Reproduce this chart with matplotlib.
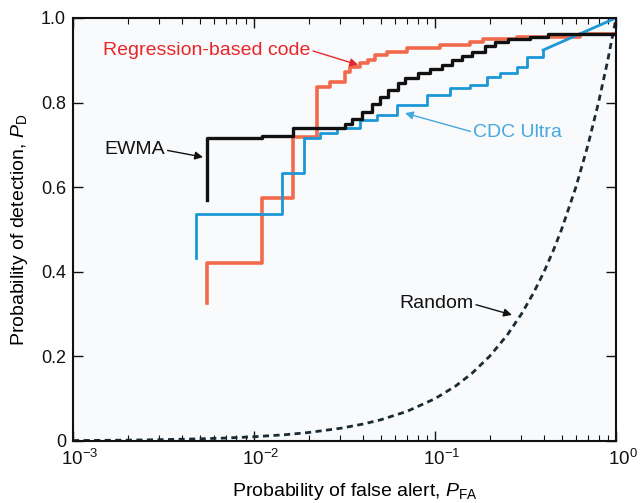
import matplotlib
matplotlib.use("Agg")
import matplotlib.pyplot as plt
from matplotlib.ticker import FixedLocator, FuncFormatter, LogLocator, NullFormatter
from matplotlib.transforms import ScaledTranslation

plt.rcParams['font.family'] = ['Liberation Sans', 'DejaVu Sans']
plt.rcParams['mathtext.fontset'] = 'custom'
plt.rcParams['mathtext.rm'] = 'Liberation Sans'
plt.rcParams['mathtext.it'] = 'Liberation Sans:italic'
plt.rcParams['mathtext.default'] = 'regular'

# ROC curves (P_FA on log axis, P_D linear)
ewma_pfa = [0.00549, 0.00549, 0.01107, 0.01641, 0.0318, 0.0348, 0.0395, 0.0449, 0.0497,
            0.0549, 0.0625, 0.0682, 0.0805, 0.0937, 0.1094, 0.124, 0.141, 0.160, 0.189,
            0.214, 0.253, 0.335, 0.421, 1.0]
ewma_pd = [0.570, 0.716, 0.721, 0.741, 0.749, 0.761, 0.778, 0.797, 0.813,
           0.830, 0.846, 0.858, 0.870, 0.879, 0.889, 0.901, 0.910, 0.920, 0.934,
           0.943, 0.950, 0.955, 0.962, 0.962]

regr_pfa = [0.00549, 0.00549, 0.01107, 0.01641, 0.0223, 0.0263, 0.0318, 0.0339, 0.0386,
            0.0427, 0.0467, 0.0543, 0.0700, 0.1067, 0.156, 0.184, 0.284, 0.632, 1.0]
regr_pd = [0.326, 0.421, 0.574, 0.719, 0.837, 0.849, 0.872, 0.884, 0.894,
           0.901, 0.913, 0.920, 0.929, 0.936, 0.943, 0.950, 0.955, 0.962, 0.962]

cdc_pfa = [0.00479, 0.00479, 0.01429, 0.01888, 0.0232, 0.0288, 0.0386, 0.0479, 0.0617,
           0.0904, 0.121, 0.156, 0.194, 0.229, 0.284, 0.322, 0.395]
cdc_pd = [0.433, 0.537, 0.634, 0.716, 0.728, 0.740, 0.759, 0.771, 0.794,
          0.818, 0.835, 0.842, 0.861, 0.870, 0.884, 0.908, 0.924]
cdc_tail_pfa = [0.395, 1.0]
cdc_tail_pd = [0.924, 1.0]

random_pfa = [0.001, 0.002, 0.003, 0.005, 0.007, 0.01, 0.015, 0.02, 0.03, 0.04, 0.05, 0.07,
              0.1, 0.13, 0.16, 0.2, 0.25, 0.3, 0.35, 0.4, 0.45, 0.5, 0.6, 0.7, 0.8, 0.9, 1.0]
random_pd = [0.001, 0.002, 0.003, 0.005, 0.007, 0.01, 0.015, 0.02, 0.03, 0.04, 0.05, 0.07,
             0.1, 0.13, 0.16, 0.2, 0.25, 0.3, 0.35, 0.4, 0.45, 0.5, 0.6, 0.7, 0.8, 0.9, 1.0]

yticks = [0, 0.2, 0.4, 0.6, 0.8, 1.0]
ytick_labels = ['0', '0.2', '0.4', '0.6', '0.8', '1.0']

red = '#f26a4c'
red_text = '#e8262a'
blue = '#1d98d6'
blue_text = '#45a8df'
black = '#111111'

fig = plt.figure(figsize=(6.44, 5.03), dpi=100)
ax = fig.add_axes([0.1134, 0.1233, 0.8432, 0.841])
ax.set_facecolor('#f9fafc')

ax.plot(random_pfa, random_pd, color='#1b2b33', lw=2.0, dashes=(2.2, 1.6))
ax.step(regr_pfa, regr_pd, where='post', color=red, lw=2.6)
ax.step(cdc_pfa, cdc_pd, where='post', color=blue, lw=2.0)
ax.plot(cdc_tail_pfa, cdc_tail_pd, color=blue, lw=2.0)
ax.step(ewma_pfa, ewma_pd, where='post', color=black, lw=2.4)

ax.set_xscale('log')
ax.set_xlim(1e-3, 1)
ax.set_ylim(0, 1)

ax.xaxis.set_major_locator(LogLocator(base=10, numticks=10))
ax.xaxis.set_minor_locator(LogLocator(base=10, subs=range(2, 10), numticks=10))
ax.xaxis.set_minor_formatter(NullFormatter())
ax.yaxis.set_major_locator(FixedLocator(yticks))
ax.yaxis.set_major_formatter(FuncFormatter(lambda v, p: ytick_labels[yticks.index(round(v, 1))] if round(v, 1) in yticks else ''))

ax.tick_params(which='both', direction='in', top=True, right=True, colors=black)
ax.tick_params(axis='x', labelsize=13.5, pad=6)
ax.tick_params(axis='y', labelsize=13, pad=5)
ax.tick_params(which='major', length=7, width=1.0)
ax.tick_params(which='minor', length=4, width=0.8)
for s in ax.spines.values():
    s.set_linewidth(1.5)
    s.set_color(black)

# x tick labels sit a little right of their ticks in the original (except the last one)
for t in ax.xaxis.get_major_ticks():
    if t.get_loc() < 0.5:
        t.label1.set_transform(t.label1.get_transform() + ScaledTranslation(0.07, 0, fig.dpi_scale_trans))

ax.set_xlabel('Probability of false alert, $\\mathit{P}_{\\mathrm{FA}}$', fontsize=14, labelpad=8)
ax.xaxis.set_label_coords(0.52, -0.095)
ax.set_ylabel('Probability of detection, $\\mathit{P}_{\\mathrm{D}}$', fontsize=14, labelpad=8)

arrow = dict(arrowstyle='-|>', lw=1.0, mutation_scale=12, shrinkA=0, shrinkB=0)

ax.annotate('Regression-based code', xy=(0.0376, 0.889), xytext=(0.055, 0.924),
            textcoords='axes fraction', ha='left', va='center', fontsize=14, color=red_text,
            arrowprops=dict(arrow, color=red_text, relpos=(1, 0.5)))
ax.annotate('EWMA', xy=(0.00523, 0.671), xytext=(0.169, 0.688),
            textcoords='axes fraction', ha='right', va='center', fontsize=14, color=black,
            arrowprops=dict(arrow, color=black, relpos=(1, 0.5)))
ax.annotate('CDC Ultra', xy=(0.0682, 0.775), xytext=(0.737, 0.730),
            textcoords='axes fraction', ha='left', va='center', fontsize=14, color=blue_text,
            arrowprops=dict(arrow, color=blue_text, relpos=(0, 0.5)))
ax.annotate('Random', xy=(0.266, 0.298), xytext=(0.737, 0.324),
            textcoords='axes fraction', ha='right', va='center', fontsize=14, color=black,
            arrowprops=dict(arrow, color=black, relpos=(1, 0.5)))

fig.savefig('out.png', dpi=100)
